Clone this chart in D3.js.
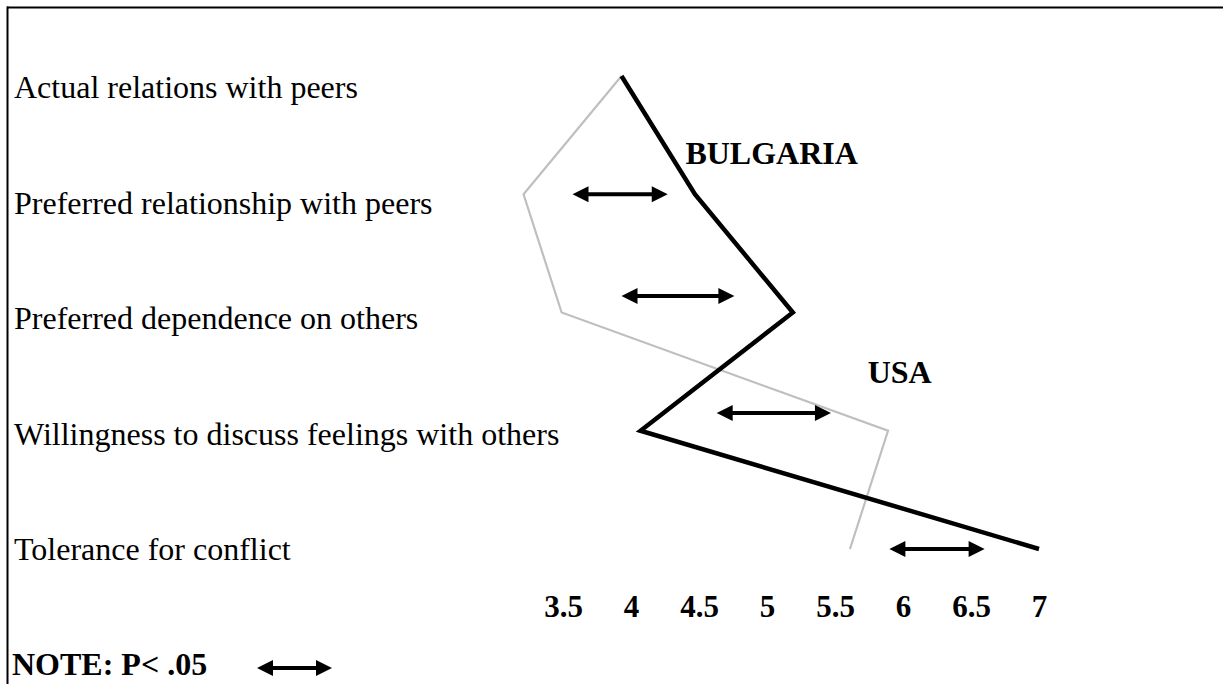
<!DOCTYPE html>
<html>
<head>
<meta charset="utf-8">
<script src="https://cdn.jsdelivr.net/npm/d3@7"></script>
<style>
  html, body { margin: 0; padding: 0; background: #fff; }
  svg { display: block; }
  text { font-family: "Liberation Serif", "Times New Roman", serif; fill: #000; }
</style>
</head>
<body>
<svg id="chart" width="1223" height="684"></svg>
<script>
// ---- data ----
const categories = [
  "Actual relations with peers",
  "Preferred relationship with peers",
  "Preferred dependence on others",
  "Willingness to discuss feelings with others",
  "Tolerance for conflict"
];
const bulgaria = [3.93, 4.47, 5.19, 4.07, 7.0];
const usa = [3.93, 3.21, 3.49, 5.89, 5.61];
const tickValues = [3.5, 4, 4.5, 5, 5.5, 6, 6.5, 7];
// significance arrows: [from, to] on the scale, and row position
const arrowFrom = [3.57, 3.93, 4.63, 5.90];
const arrowTo = [4.27, 4.76, 5.47, 6.60];
const arrowRow = [1.0, 1.86, 2.85, 4.0];
const seriesLabels = ["BULGARIA", "USA"];
const seriesLabelX = [4.40, 5.74];
const seriesLabelRow = [0.74, 2.6];
const noteText = "NOTE: P< .05";

// ---- layout ----
const svg = d3.select("#chart");
const x = d3.scaleLinear().domain([3.5, 7]).range([563, 1039]);
const yRow = d3.scaleLinear().domain([0, categories.length - 1]).range([76, 549]);
const yLabel = d3.scalePoint().domain(categories).range([98, 560]);

// frame (top & left)
svg.append("line").attr("x1", 7).attr("x2", 1223).attr("y1", 7.5).attr("y2", 7.5)
  .attr("stroke", "#000").attr("stroke-width", 2);
svg.append("line").attr("x1", 7.5).attr("x2", 7.5).attr("y1", 6.5).attr("y2", 684)
  .attr("stroke", "#000").attr("stroke-width", 2);

// category labels
svg.append("g").selectAll("text").data(categories).join("text")
  .attr("x", 14).attr("y", d => yLabel(d))
  .attr("font-size", 32)
  .text(d => d);

// lines
const line = d3.line().x(d => x(d.v)).y(d => yRow(d.i));
const toPts = arr => arr.map((v, i) => ({ v, i }));
svg.append("path").datum(toPts(usa)).attr("d", line)
  .attr("fill", "none").attr("stroke", "#bfbfbf").attr("stroke-width", 2.2);
svg.append("path").datum(toPts(bulgaria)).attr("d", line)
  .attr("fill", "none").attr("stroke", "#000").attr("stroke-width", 4.5)
  .attr("stroke-linejoin", "miter");

// double-headed arrow helper
function dblArrow(g, x1, x2, y) {
  const hl = 16, hw = 8;
  g.append("line").attr("x1", x1 + hl - 2).attr("x2", x2 - hl + 2)
    .attr("y1", y).attr("y2", y).attr("stroke", "#000").attr("stroke-width", 4);
  g.append("path").attr("d", `M${x1},${y}L${x1 + hl},${y - hw}L${x1 + hl},${y + hw}Z`).attr("fill", "#000");
  g.append("path").attr("d", `M${x2},${y}L${x2 - hl},${y - hw}L${x2 - hl},${y + hw}Z`).attr("fill", "#000");
}
const arrows = svg.append("g");
arrowFrom.forEach((f, k) => dblArrow(arrows, x(f), x(arrowTo[k]), yRow(arrowRow[k])));

// series labels
svg.append("g").selectAll("text").data(seriesLabels).join("text")
  .attr("x", (d, i) => x(seriesLabelX[i])).attr("y", (d, i) => yRow(seriesLabelRow[i]))
  .attr("font-size", 32).attr("font-weight", "bold")
  .text(d => d);

// x axis (tick labels only)
const axis = d3.axisBottom(x).tickValues(tickValues).tickSize(0).tickPadding(0)
  .tickFormat(d3.format("~g"));
const ax = svg.append("g").attr("transform", "translate(0,596)").call(axis);
ax.select(".domain").remove();
ax.selectAll("text")
  .attr("font-family", "Liberation Serif, Times New Roman, serif")
  .attr("font-size", 31).attr("font-weight", "bold").attr("fill", "#000")
  .attr("dy", null).attr("y", 21);

// note
svg.append("text").attr("x", 12).attr("y", 675)
  .attr("font-size", 32).attr("font-weight", "bold").text(noteText);
dblArrow(svg.append("g"), 257, 332, 668);
</script>
</body>
</html>
